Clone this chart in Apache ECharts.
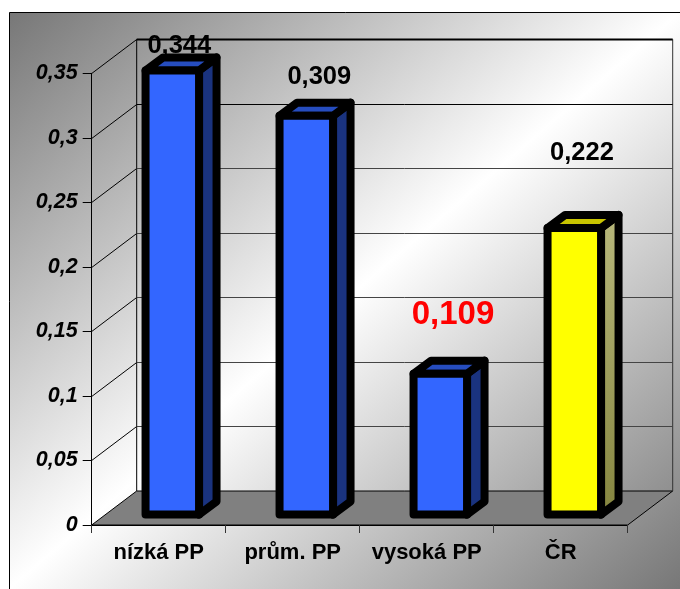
<!DOCTYPE html>
<html>
<head>
<meta charset="utf-8">
<style>html,body{margin:0;padding:0;background:#fff}#c{width:680px;height:589px}</style>
<script src="https://cdn.jsdelivr.net/npm/echarts@6/dist/echarts.min.js"></script>
</head>
<body>
<div id="c"></div>
<script>
var categories = ['nízká PP', 'prům. PP', 'vysoká PP', 'ČR'];
var values = [0.344, 0.309, 0.109, 0.222];
var gridValues = [0, 0.05, 0.1, 0.15, 0.2, 0.25, 0.3, 0.35];

var FONT = '"Liberation Sans", Arial, sans-serif';
var DEPTH = {dx: 45, dy: 34};
var BAR = {shiftX: 13.6, shiftY: 10.5, w: 53.5, dx: 17.5, dy: 13, stroke: 8};
var PAL_BLUE = {front: '#3366ff', side: '#1a337f', top: '#264dbf'};
var PAL_YEL = {front: '#ffff00', top: '#c8c400',
  side: new echarts.graphic.LinearGradient(0, 0, 0, 1, [{offset: 0, color: '#b8b87c'}, {offset: 1, color: '#85853f'}])};
var palettes = [PAL_BLUE, PAL_BLUE, PAL_BLUE, PAL_YEL];
var labelStyle = [
  {dx: 7, dy: -24.5, size: 25.5, color: '#000'},
  {dx: 13, dy: -38.5, size: 25.5, color: '#000'},
  {dx: 12.7, dy: -58.5, size: 33, color: '#f00'},
  {dx: 7.7, dy: -75.5, size: 25.5, color: '#000'}
];

var chart = echarts.init(document.getElementById('c'), null, {renderer: 'canvas'});

function line(x1, y1, x2, y2, color, w) {
  return {type: 'line', shape: {x1: x1, y1: y1, x2: x2, y2: y2}, style: {stroke: color, lineWidth: w, fill: null}};
}

function renderFloor(params, api) {
  var g = params.coordSys;
  var b = g.y + g.height, l = g.x, r = g.x + g.width;
  return {type: 'group', children: [
    {type: 'polygon', shape: {points: [[l, b], [r, b], [r + DEPTH.dx, b - DEPTH.dy], [l + DEPTH.dx, b - DEPTH.dy]]},
     style: {fill: '#808080', stroke: '#000', lineWidth: 1}},
    line(l + DEPTH.dx, g.y - DEPTH.dy, l + DEPTH.dx, b - DEPTH.dy, '#000', 1),
    line(r + DEPTH.dx, g.y - DEPTH.dy, r + DEPTH.dx, b - DEPTH.dy, '#333', 1)
  ]};
}

function renderGrid(params, api) {
  var v = api.value(0);
  if (v === 0) return null;
  var g = params.coordSys;
  var p = api.coord([0, v]);
  var y = Math.round(p[1]) + 0.5;
  var l = g.x, r = g.x + g.width;
  var top = v >= 0.35;
  var col = v >= 0.3 ? '#000' : '#444';
  return {type: 'group', children: [
    line(l, y, l + DEPTH.dx, y - DEPTH.dy, '#000', 1),
    line(l + DEPTH.dx, y - DEPTH.dy, r + DEPTH.dx, y - DEPTH.dy, col, top ? 2 : 1)
  ]};
}

function renderBar(params, api) {
  var i = api.value(0), v = api.value(1);
  var top = api.coord([i, v]), base = api.coord([i, 0]);
  var pal = palettes[i], ls = labelStyle[i];
  var x0 = top[0] + BAR.shiftX - BAR.w / 2, x1 = x0 + BAR.w;
  var yT = top[1] - BAR.shiftY, yB = base[1] - BAR.shiftY;
  function poly(pts, fill) {
    return {type: 'polygon', shape: {points: pts},
      style: {fill: fill, stroke: '#000', lineWidth: BAR.stroke, lineJoin: 'round'}};
  }
  return {type: 'group', children: [
    poly([[x1, yT], [x1 + BAR.dx, yT - BAR.dy], [x1 + BAR.dx, yB - BAR.dy], [x1, yB]], pal.side),
    poly([[x0, yT], [x0 + BAR.dx, yT - BAR.dy], [x1 + BAR.dx, yT - BAR.dy], [x1, yT]], pal.top),
    poly([[x0, yT], [x1, yT], [x1, yB], [x0, yB]], pal.front),
    {type: 'text', style: {
      x: (x0 + x1) / 2 + ls.dx, y: yT + ls.dy,
      text: v.toFixed(3).replace('.', ','),
      fill: ls.color, align: 'center', verticalAlign: 'middle',
      font: 'bold ' + ls.size + 'px ' + FONT
    }}
  ]};
}

chart.setOption({
  animation: false,
  backgroundColor: 'transparent',
  graphic: [{
    type: 'rect', z: -10, silent: true,
    shape: {x: 9.5, y: 12.5, width: 700, height: 620},
    style: {
      stroke: '#000', lineWidth: 1,
      fill: new echarts.graphic.LinearGradient(9, 12, 579.5, 675.5, [
        {offset: 0, color: '#777777'},
        {offset: 0.5, color: '#ffffff'},
        {offset: 1, color: '#777777'}
      ], true)
    }
  }],
  grid: {left: 91.7, top: 73.3, width: 536, height: 451.7, containLabel: false},
  xAxis: {
    type: 'category', data: categories, z: 5,
    axisLine: {show: true, lineStyle: {color: '#000', width: 1}},
    axisTick: {show: true, length: 8, lineStyle: {color: '#333', width: 1}},
    axisLabel: {color: '#000', fontFamily: FONT, fontWeight: 'bold', fontSize: 22, margin: 17, interval: 0},
    splitLine: {show: false}
  },
  yAxis: {
    type: 'value', min: 0, max: 0.35, interval: 0.05, z: 5,
    axisLine: {show: true, lineStyle: {color: '#000', width: 1}},
    axisTick: {show: true, length: 9, lineStyle: {color: '#000', width: 1}},
    axisLabel: {color: '#000', fontFamily: FONT, fontWeight: 'bold', fontStyle: 'italic', fontSize: 21.5, margin: 14,
      formatter: function (v) { return String(Math.round(v * 100) / 100).replace('.', ','); }},
    splitLine: {show: false}
  },
  series: [
    {type: 'custom', z: 1, silent: true, clip: false, renderItem: renderFloor, data: [[0]], encode: {x: 0, y: 0}},
    {type: 'custom', z: 2, silent: true, clip: false, renderItem: renderGrid,
     data: gridValues.map(function (v) { return [v]; }), encode: {y: 0}},
    {type: 'custom', z: 6, silent: true, clip: false, renderItem: renderBar,
     data: values.map(function (v, i) { return [i, v]; }), encode: {x: 0, y: 1}}
  ]
});
</script>
</body>
</html>
